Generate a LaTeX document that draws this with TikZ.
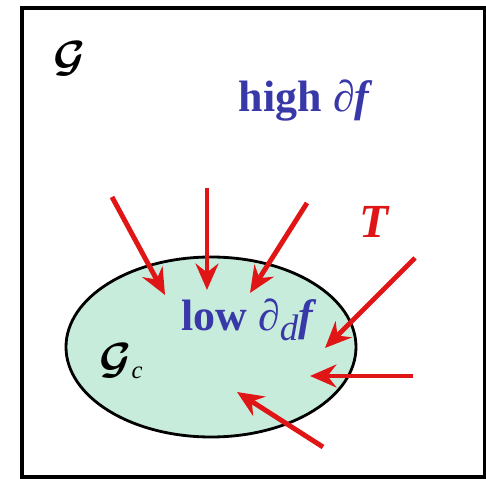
\documentclass[tikz,border=0pt]{standalone}
\usepackage{fontspec}
\setmainfont{Liberation Serif}
\usetikzlibrary{arrows.meta}
\definecolor{flow}{HTML}{E01515}
\definecolor{grad}{HTML}{3838A8}
\definecolor{core}{HTML}{C8ECDC}

\begin{document}
\begin{tikzpicture}[
    >={Stealth[length=15pt, width=13pt, inset=5pt]},
    lab/.style={font=\fontsize{25}{28}\selectfont\bfseries, text=grad},
    sym/.style={font=\fontsize{27}{30}\selectfont\boldmath},
    push/.style={->, draw=flow, fill=flow, line width=2.8pt},
]
\useasboundingbox (0,0) rectangle (9.72,9.58);

% outer domain
\draw[line width=2.2pt] (0.44,0.04) rectangle (9.70,9.42);
\node[sym] (G) at (1.40,8.40) {$\mathcal{G}$};
\node[lab] (high) at (6.12,7.56) {high \textit{∂f}};
\node[font=\fontsize{27}{30}\selectfont\bfseries\itshape, text=flow] (T) at (7.48,5.14) {T};

% inner domain
\draw[line width=1.6pt, fill=core] (4.22,2.64) ellipse [x radius=2.90, y radius=1.80];
\node[lab] (low) at (4.98,3.18)
    {low \textit{∂}\raisebox{-0.5ex}{\fontsize{21}{24}\selectfont\mdseries\textit{d}}\textit{f}};
\node[sym] (Gc) at (2.42,2.36)
    {$\mathcal{G}$\raisebox{-0.2ex}{\fontsize{14}{16}\selectfont\textit{c}}};

% arrows into the ellipse
\coordinate (a1) at (2.24,5.64); \coordinate (b1) at (3.30,3.68);
\coordinate (a2) at (4.14,5.82); \coordinate (b2) at (4.14,3.78);
\coordinate (a3) at (6.14,5.52); \coordinate (b3) at (5.00,3.72);
\coordinate (a4) at (8.30,4.42); \coordinate (b4) at (6.50,2.62);
\coordinate (a5) at (8.26,2.06); \coordinate (b5) at (6.20,2.06);
\coordinate (a6) at (6.46,0.64); \coordinate (b6) at (4.74,1.74);
\foreach \i in {1,...,6}
    \draw[push] (a\i) -- (b\i);

\end{tikzpicture}
\end{document}
